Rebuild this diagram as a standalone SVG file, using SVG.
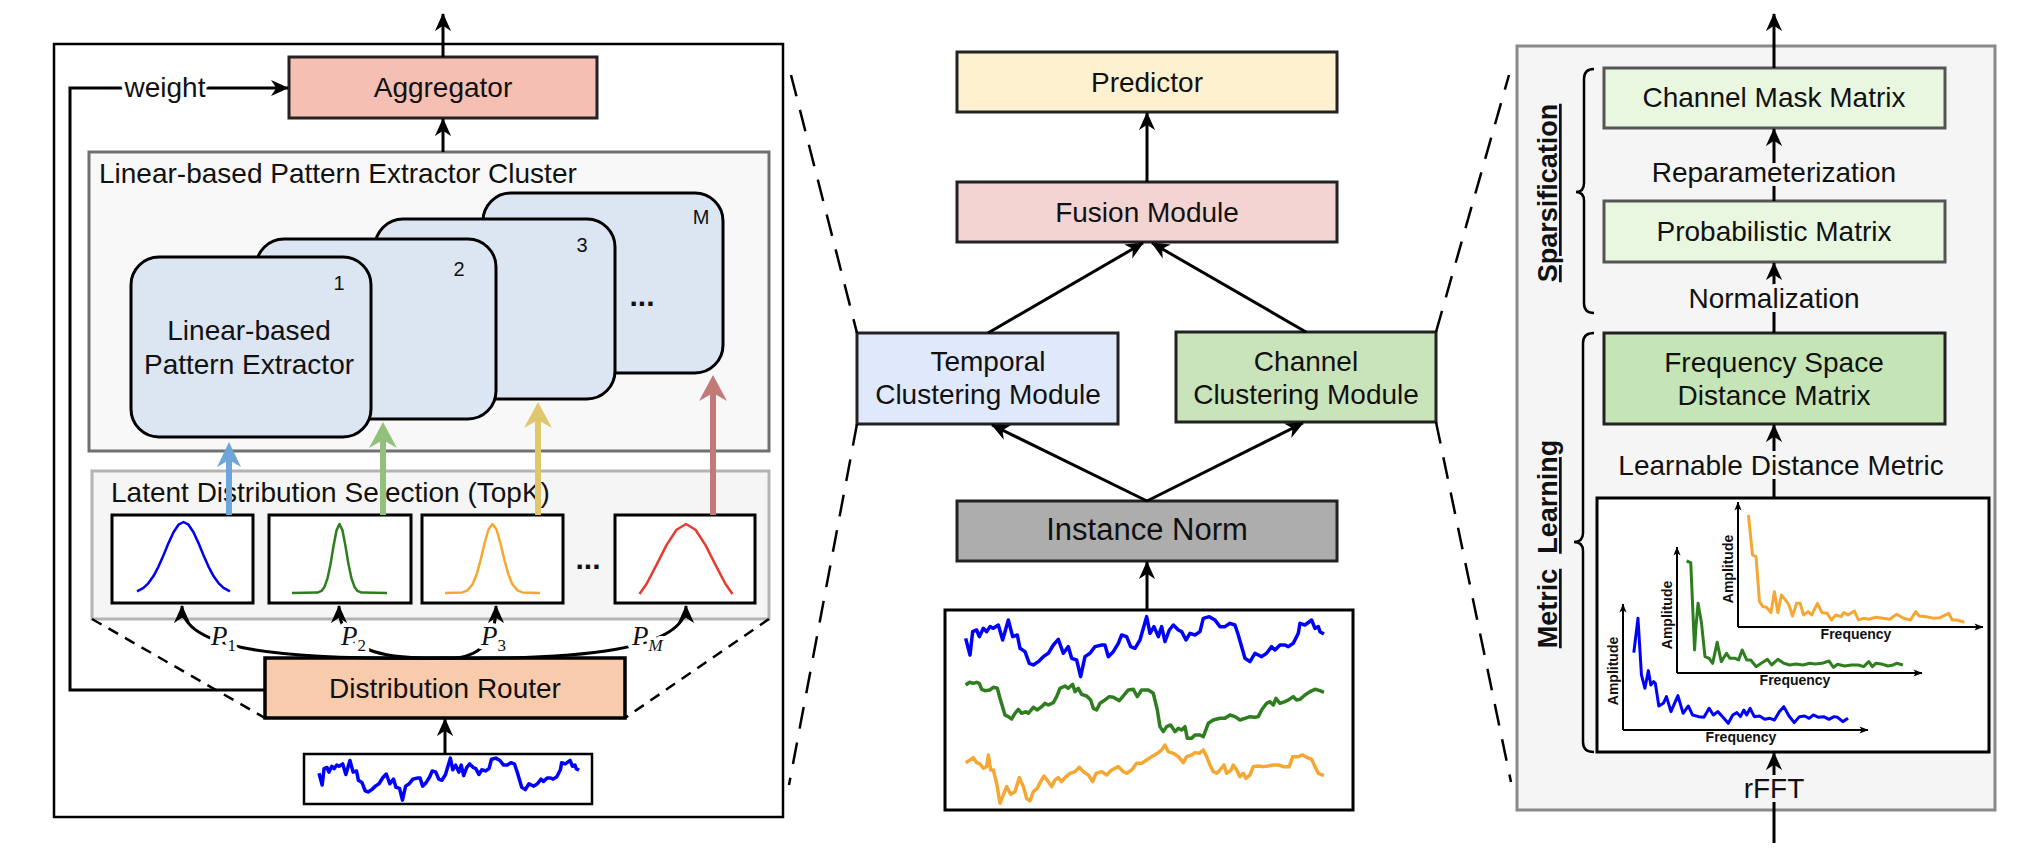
<svg xmlns="http://www.w3.org/2000/svg" width="2022" height="866" viewBox="0 0 2022 866">
<style>
text{font-family:"Liberation Sans",Arial,Helvetica,sans-serif;fill:#111}
.t28{font-size:28px}
.t20{font-size:20px}
.c{text-anchor:middle}
.box{stroke:#222;stroke-width:3}
.ln{stroke:#000;stroke-width:3;fill:none}
.dash{stroke:#000;stroke-width:2.5;fill:none;stroke-dasharray:22 14}
.dash2{stroke:#000;stroke-width:2.5;fill:none;stroke-dasharray:11 8}
.card{fill:#dbe6f2;stroke:#000;stroke-width:3}
.dist{fill:#fff;stroke:#000;stroke-width:3}
.g{fill:none;stroke-width:2.5;stroke-linejoin:round}
.ser{fill:none;stroke-width:3.5;stroke-linejoin:round;vector-effect:non-scaling-stroke}
.spec{fill:none;stroke-width:3;stroke-linejoin:round;vector-effect:non-scaling-stroke}
.haloW{stroke:#fff;stroke-width:8;paint-order:stroke;stroke-linejoin:round}
.haloG{stroke:#f5f5f5;stroke-width:8;paint-order:stroke;stroke-linejoin:round}
.pl{font-family:"Liberation Serif","Times New Roman",serif;font-style:italic;font-size:27px}
.ax{stroke:#000;stroke-width:2;fill:none}
.axt{font-size:14px;font-weight:bold}
.vt{font-size:27px;font-weight:bold}
</style>
<defs>
<marker id="arr" viewBox="0 0 20 20" refX="19" refY="10" markerWidth="18" markerHeight="18" markerUnits="userSpaceOnUse" orient="auto">
<path d="M0,1 L20,10 L0,19 L6,10 Z" fill="#000"/>
</marker>
<marker id="arrS" viewBox="0 0 20 20" refX="19" refY="10" markerWidth="9" markerHeight="9" markerUnits="userSpaceOnUse" orient="auto">
<path d="M0,2 L20,10 L0,18 L5,10 Z" fill="#000"/>
</marker>
<polyline id="blueSeries" class="ser" stroke="#0000ff" points="137,475 150,525 158,455 170,450 178,470 190,445 200,455 210,440 220,445 235,435 248,480 265,420 278,470 292,465 300,505 315,515 328,550 340,555 355,545 370,530 385,520 400,495 415,478 430,520 445,500 455,535 470,540 482,590 495,530 510,520 525,500 545,495 555,495 565,530 580,515 595,490 605,465 620,470 632,500 645,505 660,480 680,410 690,460 702,440 715,470 725,440 735,485 748,450 760,435 775,450 785,455 798,480 810,460 825,465 840,455 850,415 868,410 885,420 900,440 915,440 930,430 945,435 955,465 965,500 975,535 990,545 1005,520 1015,525 1025,530 1040,520 1055,500 1065,510 1080,495 1095,495 1105,500 1120,490 1135,460 1140,430 1155,435 1175,420 1185,445 1195,440 1200,455 1212,462"/>
</defs>

<rect width="2022" height="866" fill="#fff"/>

<!-- ================= LEFT PANEL ================= -->
<g id="left-panel">
<rect x="54" y="44" width="729" height="773" fill="#fff" stroke="#000" stroke-width="2.5"/>
</g>
<g id="pattern-cluster">
<rect x="89" y="152" width="680" height="299" fill="#f8f8f8" stroke="#707070" stroke-width="3"/>
<text class="t28" x="99" y="183">Linear-based Pattern Extractor Cluster</text>
</g>
<g id="extractor-M">
<rect class="card" x="483" y="193" width="240" height="180" rx="28"/>
<text class="t20 c" x="701" y="224">M</text>
<text class="c" x="642" y="306" font-size="30" font-weight="bold">...</text>
</g>
<g id="extractor-3">
<rect class="card" x="375" y="219" width="240" height="180" rx="28"/>
<text class="t20 c" x="582" y="252">3</text>
</g>
<g id="extractor-2">
<rect class="card" x="256" y="239" width="240" height="180" rx="28"/>
<text class="t20 c" x="459" y="276">2</text>
</g>
<g id="extractor-1">
<rect class="card" x="131" y="257" width="240" height="180" rx="28"/>
<text class="t20 c" x="339" y="290">1</text>
<text class="t28 c" x="249" y="340">Linear-based</text>
<text class="t28 c" x="249" y="374">Pattern Extractor</text>
</g>
<g id="latent-selection">
<rect x="92" y="471" width="677" height="148" fill="#f5f5f5" stroke="#b3b3b3" stroke-width="3"/>
<text class="t28" x="111" y="502">Latent Distribution Selection (TopK)</text>
</g>
<g id="dist-1">
<rect class="dist" x="112" y="515" width="141" height="88"/>
<polyline class="g" stroke="#0000ee" points="137,591.4 143.5,587.9 148.5,583.1 153.5,576.1 158.5,566.6 163.5,555.2 168.5,543.1 173.5,532.3 178.5,524.7 183.5,522 188.5,524.7 193.5,532.3 198.5,543.1 203.5,555.2 208.5,566.6 213.5,576.1 218.5,583.1 223.5,587.9 230,591.4"/>
</g>
<g id="dist-2">
<rect class="dist" x="269" y="515" width="142" height="88"/>
<polyline class="g" stroke="#2e7d1f" points="292,593 317.5,592.6 321.5,590.9 324.5,586.9 327.5,578.4 330.5,564.2 333.5,546.2 336.5,530.4 339.5,524 342.5,530.4 345.5,546.2 348.5,564.2 351.5,578.4 354.5,586.9 357.5,590.9 361.5,592.6 387,593"/>
</g>
<g id="dist-3">
<rect class="dist" x="422" y="515" width="141" height="88"/>
<polyline class="g" stroke="#f5a733" points="445,593 462.5,592.4 467.5,590.3 472.5,584.4 476.5,574.8 480.5,560.4 484.5,543.5 488.5,529.5 492.5,524 496.5,529.5 500.5,543.5 504.5,560.4 508.5,574.8 512.5,584.4 517.5,590.3 522.5,592.4 540,593"/>
<text class="c" x="588" y="569" font-size="30" font-weight="bold">...</text>
</g>
<g id="dist-M">
<rect class="dist" x="615" y="515" width="140" height="88"/>
<polyline class="g" stroke="#e83a33" points="639.5,594 646.5,584 656.5,564.9 666.5,545.1 676.5,529.8 686,524 695.5,529.8 705.5,545.1 715.5,564.9 725.5,584 732.5,594"/>
</g>
<g id="aggregator">
<rect class="box" x="289" y="57" width="308" height="61" fill="#f5c0b3"/>
<text class="t28 c" x="443" y="97">Aggregator</text>
</g>
<g id="distribution-router">
<rect x="265" y="658" width="360" height="60" fill="#f8cbad" stroke="#000" stroke-width="3.5"/>
<text class="t28 c" x="445" y="698">Distribution Router</text>
</g>
<g id="left-input">
<rect x="304" y="754" width="288" height="50" fill="#fff" stroke="#000" stroke-width="2.5"/>
<use href="#blueSeries" transform="translate(285.86,662.47) scale(0.2419,0.2333)"/>
</g>

<!-- ================= MIDDLE ================= -->
<g id="predictor">
<rect class="box" x="957" y="52" width="380" height="60" fill="#fdf1cf"/>
<text class="t28 c" x="1147" y="92">Predictor</text>
</g>
<g id="fusion-module">
<rect class="box" x="957" y="182" width="380" height="60" fill="#f3d4d3"/>
<text class="t28 c" x="1147" y="222">Fusion Module</text>
</g>
<g id="temporal-clustering">
<rect class="box" x="857" y="333" width="261" height="91" fill="#dfe9fb"/>
<text class="t28 c" x="988" y="371">Temporal</text>
<text class="t28 c" x="988" y="404">Clustering Module</text>
</g>
<g id="channel-clustering">
<rect class="box" x="1176" y="332" width="260" height="90" fill="#c9e3ba"/>
<text class="t28 c" x="1306" y="371">Channel</text>
<text class="t28 c" x="1306" y="404">Clustering Module</text>
</g>
<g id="instance-norm">
<rect class="box" x="957" y="501" width="380" height="60" fill="#adadad"/>
<text class="c" x="1147" y="540" font-size="31">Instance Norm</text>
</g>
<g id="multivariate-input">
<rect x="945" y="610" width="408" height="200" fill="#fff" stroke="#000" stroke-width="3"/>
<g transform="translate(920,480) scale(0.3333)">
<use href="#blueSeries"/>
<polyline class="ser" stroke="#2e7d1f" points="137,615 148,607 160,610 170,607 178,610 185,628 195,632 210,630 220,622 232,625 240,655 255,705 265,710 275,717 285,700 295,688 305,700 318,695 325,700 340,682 352,690 365,680 375,670 385,675 400,668 410,650 420,625 435,618 445,625 458,613 465,635 475,625 485,643 500,648 512,660 520,685 530,690 540,670 555,660 568,650 580,652 598,662 610,648 625,630 640,628 652,650 665,630 685,630 700,640 712,690 720,740 730,755 740,740 752,735 765,755 775,745 785,750 795,740 802,775 815,775 825,765 840,765 850,770 865,730 880,720 900,715 915,715 930,705 945,710 960,720 975,715 990,710 1005,712 1015,710 1025,690 1040,670 1050,665 1060,675 1068,655 1080,670 1095,665 1105,660 1120,650 1130,660 1140,658 1155,645 1170,635 1185,628 1200,632 1212,637"/>
<polyline class="ser" stroke="#f5a733" points="137,848 150,840 160,833 170,848 180,852 190,865 200,860 205,825 212,870 220,870 230,910 240,970 250,945 260,920 272,943 285,935 298,893 310,920 320,955 330,963 340,935 352,925 362,905 372,888 385,905 395,920 405,900 415,893 425,905 435,893 450,880 465,875 478,862 490,875 505,885 518,905 528,880 545,875 560,885 575,870 595,860 610,875 620,880 635,870 650,850 665,850 680,840 695,830 712,820 725,810 735,795 745,815 760,820 775,830 790,848 800,830 815,825 825,818 838,820 850,810 860,830 870,855 880,875 890,880 900,870 912,855 920,880 932,872 940,855 950,870 960,890 970,880 978,895 990,885 1000,860 1015,858 1030,860 1045,858 1060,855 1075,855 1090,860 1108,860 1118,830 1135,830 1148,825 1160,832 1175,838 1185,860 1195,880 1212,887"/>
</g>
</g>

<!-- ================= RIGHT PANEL ================= -->
<g id="right-panel">
<rect x="1517" y="46" width="478" height="764" fill="#f5f5f5" stroke="#8a8a8a" stroke-width="3"/>
<path d="M1594,69 Q1584,69 1584,79 L1584,183 Q1584,192 1576,192 Q1584,192 1584,201 L1584,303 Q1584,313 1594,313" fill="none" stroke="#000" stroke-width="2.5"/>
<path d="M1594,333 Q1583,333 1583,343 L1583,533 Q1583,542 1574,542 Q1583,542 1583,551 L1583,742 Q1583,752 1594,752" fill="none" stroke="#000" stroke-width="2.5"/>
<text class="vt c" transform="translate(1557,193) rotate(-90)" text-decoration="underline">Sparsification</text>
<text class="vt c" transform="translate(1557,544) rotate(-90)" xml:space="preserve"><tspan text-decoration="underline">Metric</tspan>  <tspan text-decoration="underline">Learning</tspan></text>
</g>
<g id="channel-mask-matrix">
<rect x="1604" y="68" width="341" height="60" fill="#e9f7e1" stroke="#555" stroke-width="3"/>
<text class="t28 c" x="1774" y="107">Channel Mask Matrix</text>
</g>
<g id="probabilistic-matrix">
<rect x="1604" y="201" width="341" height="61" fill="#e9f7e1" stroke="#555" stroke-width="3"/>
<text class="t28 c" x="1774" y="241">Probabilistic Matrix</text>
</g>
<g id="distance-matrix">
<rect x="1604" y="333" width="341" height="91" fill="#c6e5b6" stroke="#222" stroke-width="3"/>
<text class="t28 c" x="1774" y="372">Frequency Space</text>
<text class="t28 c" x="1774" y="405">Distance Matrix</text>
</g>
<g id="spectrum-plots">
<rect x="1597" y="498" width="392" height="254" fill="#fff" stroke="#000" stroke-width="3"/>
<path class="ax" d="M1623,730 L1623,604" marker-end="url(#arrS)"/>
<path class="ax" d="M1623,730 L1868,730" marker-end="url(#arrS)"/>
<path class="ax" d="M1677,673 L1677,547" marker-end="url(#arrS)"/>
<path class="ax" d="M1677,673 L1922,673" marker-end="url(#arrS)"/>
<path class="ax" d="M1738,627 L1738,502" marker-end="url(#arrS)"/>
<path class="ax" d="M1738,627 L1983,627" marker-end="url(#arrS)"/>
<g transform="translate(1480,430) scale(0.3472,0.3333)">
<polyline class="spec" stroke="#0000ff" points="443,668 455,565 465,735 475,775 485,722 492,765 500,755 505,760 515,828 528,820 537,800 550,845 570,797 585,850 600,828 612,855 630,860 645,862 660,835 672,855 685,845 700,862 715,880 728,855 740,848 750,860 760,840 768,855 778,835 790,860 805,858 820,868 835,865 848,870 862,845 875,830 890,858 905,878 920,860 935,858 948,865 960,855 975,862 990,860 1005,868 1020,860 1030,862 1045,875 1060,865"/>
<polyline class="spec" stroke="#2e7d1f" points="595,393 607,398 618,660 622,590 628,520 638,580 648,680 660,685 670,700 683,637 695,695 710,670 720,685 735,685 745,690 755,660 768,690 780,690 795,710 810,700 828,688 840,705 858,688 875,700 892,705 910,702 930,705 950,700 965,702 985,700 1005,693 1018,712 1030,703 1050,708 1070,705 1090,705 1105,710 1120,695 1130,710 1140,700 1160,703 1175,708 1190,705 1200,700 1218,705"/>
<polyline class="spec" stroke="#f5a733" points="773,255 785,375 795,380 805,515 815,530 825,532 838,548 848,485 858,548 868,495 880,510 890,525 900,558 912,520 922,520 932,555 945,545 955,555 972,520 985,548 1000,550 1012,570 1025,555 1040,560 1048,548 1060,555 1078,543 1090,570 1105,565 1120,568 1140,562 1160,565 1180,568 1200,553 1220,565 1240,570 1255,545 1265,558 1285,560 1305,565 1325,563 1350,550 1360,570 1375,570 1395,577"/>
</g>
<text class="axt c" transform="translate(1618,671) rotate(-90)">Amplitude</text>
<text class="axt c" x="1741" y="742">Frequency</text>
<text class="axt c" transform="translate(1672,615) rotate(-90)">Amplitude</text>
<text class="axt c" x="1795" y="685">Frequency</text>
<text class="axt c" transform="translate(1733,569) rotate(-90)">Amplitude</text>
<text class="axt c" x="1856" y="639">Frequency</text>
</g>

<!-- ================= CONNECTORS ================= -->
<g id="connectors">
<!-- left panel -->
<path class="ln" d="M443,57 L443,14" marker-end="url(#arr)"/>
<path class="ln" d="M443,152 L443,119" marker-end="url(#arr)"/>
<path class="ln" d="M265,690 L70,690 L70,88 L288,88" marker-end="url(#arr)"/>
<path class="ln" d="M445,754 L445,719" marker-end="url(#arr)"/>
<path class="ln" d="M445,658 C280,660 182,650 182,606" marker-end="url(#arr)"/>
<path class="ln" d="M445,658 C380,660 339,650 339,606" marker-end="url(#arr)"/>
<path class="ln" d="M445,658 C480,660 496,640 496,606" marker-end="url(#arr)"/>
<path class="ln" d="M445,658 C580,660 686,650 686,606" marker-end="url(#arr)"/>
<path class="dash2" d="M92,619 L265,718"/>
<path class="dash2" d="M769,619 L625,718"/>
<!-- colored selection arrows -->
<path d="M229,515 L229,455" stroke="#6ea6da" stroke-width="6" fill="none"/>
<path d="M229,442 L241,467 L229,460 L217,467 Z" fill="#6ea6da"/>
<path d="M383,515 L383,436" stroke="#93c07a" stroke-width="6" fill="none"/>
<path d="M383,422 L397,448 L383,440 L369,448 Z" fill="#93c07a"/>
<path d="M538,515 L538,416" stroke="#e0c66c" stroke-width="6" fill="none"/>
<path d="M538,402 L552,428 L538,420 L524,428 Z" fill="#e0c66c"/>
<path d="M713,515 L713,388" stroke="#c27a78" stroke-width="6" fill="none"/>
<path d="M713,375 L727,401 L713,393 L699,401 Z" fill="#c27a78"/>
<!-- middle -->
<path class="ln" d="M1147,182 L1147,113" marker-end="url(#arr)"/>
<path class="ln" d="M988,333 L1143,243" marker-end="url(#arr)"/>
<path class="ln" d="M1306,332 L1152,243" marker-end="url(#arr)"/>
<path class="ln" d="M1147,501 L992,425" marker-end="url(#arr)"/>
<path class="ln" d="M1147,501 L1303,423" marker-end="url(#arr)"/>
<path class="ln" d="M1147,610 L1147,562" marker-end="url(#arr)"/>
<path class="dash" d="M791,75 L857,333"/>
<path class="dash" d="M857,424 L789,785"/>
<path class="dash" d="M1436,332 L1509,75"/>
<path class="dash" d="M1436,422 L1511,782"/>
<!-- right panel -->
<path class="ln" d="M1774,68 L1774,14" marker-end="url(#arr)"/>
<path class="ln" d="M1774,201 L1774,129" marker-end="url(#arr)"/>
<path class="ln" d="M1774,333 L1774,263" marker-end="url(#arr)"/>
<path class="ln" d="M1774,498 L1774,425" marker-end="url(#arr)"/>
<path class="ln" d="M1774,843 L1774,753" marker-end="url(#arr)"/>
</g>

<!-- connector labels -->
<g id="connector-labels">
<text class="t28 c haloW" x="165" y="97">weight</text>
<text class="pl haloW" x="211" y="645">P<tspan font-style="normal" font-size="17" dy="6">1</tspan></text>
<text class="pl haloW" x="341" y="645">P<tspan font-style="normal" font-size="17" dy="6">2</tspan></text>
<text class="pl haloW" x="481" y="645">P<tspan font-style="normal" font-size="17" dy="6">3</tspan></text>
<text class="pl haloW" x="632" y="645">P<tspan font-size="17" dy="6">M</tspan></text>
<text class="t28 c haloG" x="1774" y="182">Reparameterization</text>
<text class="t28 c haloG" x="1774" y="308">Normalization</text>
<text class="t28 c haloG" x="1781" y="475">Learnable Distance Metric</text>
<text class="t28 c haloG" x="1774" y="798">rFFT</text>
</g>
</svg>
